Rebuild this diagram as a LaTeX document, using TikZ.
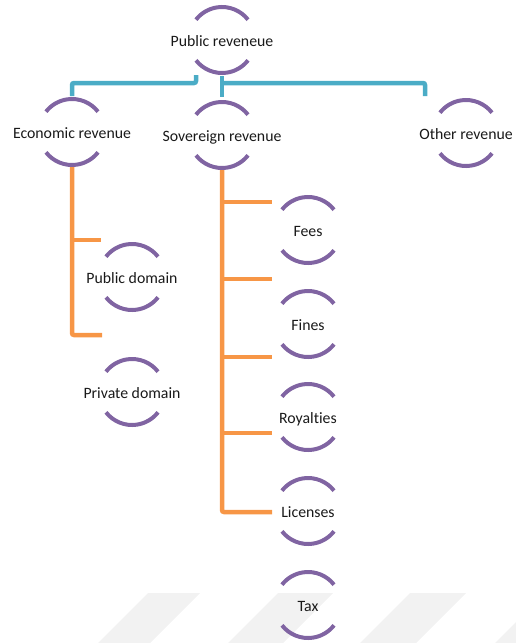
\documentclass[tikz,border=0pt]{standalone}
\usepackage{fontspec}
\setmainfont[Ligatures={NoCommon,NoRare}]{Carlito}
\usetikzlibrary{calc}
\definecolor{ringpurple}{HTML}{8064A2}
\definecolor{linkblue}{HTML}{4BACC6}
\definecolor{linkorange}{HTML}{F79646}
\definecolor{wmgray}{HTML}{F2F2F2}
\tikzset{
  lbl/.style={inner sep=0pt, text height=13pt, text depth=0pt, font=\fontsize{15.8}{19}\selectfont, text=black!90},
  ring/.style={draw=ringpurple, line width=4pt},
  blink/.style={draw=linkblue, line width=4.5pt, rounded corners=2pt},
  olink/.style={draw=linkorange, line width=4.5pt, rounded corners=2pt},
  wm/.style={fill=wmgray, draw=none}
}
\newcommand\cnode[3]{%
  \node[lbl] (#1) at (#2) {#3};
  \draw[ring] ([shift={(38:33)}]#1.center) arc (38:142:33);
  \draw[ring] ([shift={(218:33)}]#1.center) arc (218:322:33);
}
\begin{document}
\begin{tikzpicture}[x=1pt,y=1pt]
\useasboundingbox (0,0) rectangle (516,-643);
% watermark stripes
\fill[wm] (148,-593) -- (200,-593) -- (148,-645) -- (96,-645) -- cycle;
\fill[wm] (278,-593) -- (333,-593) -- (281,-645) -- (226,-645) -- cycle;
\fill[wm] (410,-593) -- (466,-593) -- (414,-645) -- (358,-645) -- cycle;
\fill[wm] (545,-593) -- (600,-593) -- (548,-645) -- (493,-645) -- cycle;
% nodes
\cnode{pr}{222,-40}{Public reveneue}
\cnode{er}{72,-132}{Economic revenue}
\cnode{sr}{222,-135}{Sovereign revenue}
\cnode{or}{466,-133}{Other revenue}
\cnode{pd}{132,-277}{Public domain}
\cnode{pv}{132,-392}{Private domain}
\cnode{fe}{308,-230}{Fees}
\cnode{fi}{308,-324}{Fines}
\cnode{ro}{308,-417}{Royalties}
\cnode{li}{308,-511}{Licenses}
\cnode{tx}{308,-605}{Tax}
% blue connectors
\draw[blink] ([shift={(-26,-35)}]pr.center) |- ([shift={(0,49)}]er.center) -- ([shift={(0,36)}]er.center);
\draw[blink] ([shift={(0,-43)}]pr.center) -| ([shift={(-41,37)}]or.center);
\draw[blink] ([shift={(0,-36)}]pr.center) -- ([shift={(0,38)}]sr.center);
% orange connectors: economic
\draw[olink] ([yshift=-35pt]er.center) |- ([shift={(-30,57)}]pv.center);
\draw[olink] ([shift={(-60,37)}]pd.center) -- ([shift={(-31,37)}]pd.center);
% orange connectors: sovereign
\draw[olink] ([yshift=-35pt]sr.center) |- ([shift={(-36,-1)}]li.center);
\draw[olink] ([yshift=-67pt]sr.center) -- ([shift={(-36,28)}]fe.center);
\draw[olink] ([yshift=-144pt]sr.center) -- ([shift={(-36,45)}]fi.center);
\draw[olink] ([yshift=-222pt]sr.center) -- ([shift={(-36,60)}]ro.center);
\draw[olink] ([yshift=-298pt]sr.center) -- ([shift={(-36,78)}]li.center);
\end{tikzpicture}
\end{document}
